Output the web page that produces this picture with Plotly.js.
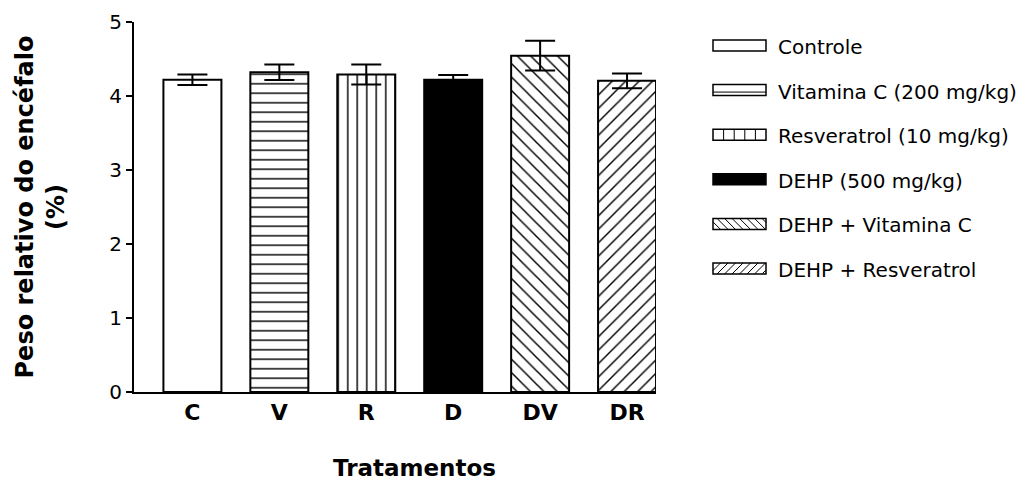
<!DOCTYPE html>
<html>
<head>
<meta charset="utf-8">
<script src="https://cdn.plot.ly/plotly-3.0.1.min.js"></script>
<style>html,body{margin:0;padding:0;background:#fff;}#chart{width:1026px;height:481px;}</style>
</head>
<body>
<div id="chart"></div>
<script>
// ---- data ----
const categories = ['C', 'V', 'R', 'D', 'DV', 'DR'];
const means = [4.22, 4.32, 4.29, 4.22, 4.545, 4.205];
const sems = [0.07, 0.105, 0.135, 0.065, 0.2, 0.1];
const legendLabels = ['Controle', 'Vitamina C (200 mg/kg)', 'Resveratrol (10 mg/kg)', 'DEHP (500 mg/kg)', 'DEHP + Vitamina C', 'DEHP + Resveratrol'];
const yTickVals = [0, 1, 2, 3, 4, 5];
const yTitle = 'Peso relativo do encéfalo<br>(%)';
const xTitle = 'Tratamentos';

// ---- styles ----
const FONT = 'DejaVu Sans, Verdana, Arial, sans-serif';
const fills = ['white', 'white', 'white', 'black', 'white', 'white'];
const patterns = ['', '-', '|', '', '\\', '/'];

// plot area in pixels
const L = 134, R = 656, T = 22, B = 392;
const W = R - L, H = B - T;
const px = x => (x - L) / W;
const py = y => (B - y) / H;

const traces = categories.map((c, i) => {
  const marker = {color: fills[i], line: {color: 'black', width: 2}};
  if (patterns[i]) {
    marker.color = 'black';
    marker.pattern = {shape: patterns[i], fgcolor: 'black', bgcolor: 'white', size: 9.5, solidity: 0.15};
  }
  return {
    type: 'bar',
    name: legendLabels[i],
    x: [c],
    y: [means[i]],
    width: 0.667,
    marker: marker,
    error_y: {type: 'data', array: [sems[i]], visible: true, color: 'black', thickness: 2, width: 15},
    showlegend: false
  };
});

// ---- custom legend (wide keys like the original) ----
const shapes = [];
const annotations = [];
const kx0 = 713, kx1 = 766, kh = 11;
function hatchPath(x0, x1, y0, y1, step, dir) {
  const h = y1 - y0;
  let p = '';
  for (let t = -h; t < (x1 - x0); t += step) {
    const u0 = Math.max(0, -t), u1 = Math.min(h, (x1 - x0) - t);
    if (u1 <= u0) continue;
    const xa = x0 + t + u0, xb = x0 + t + u1;
    let ya, yb;
    if (dir === 'back') { ya = y0 + u0; yb = y0 + u1; } else { ya = y1 - u0; yb = y1 - u1; }
    p += 'M' + px(xa) + ',' + py(ya) + 'L' + px(xb) + ',' + py(yb);
  }
  return p;
}
legendLabels.forEach((lab, i) => {
  const cy = 46 + i * 44.6;
  const y0 = cy - 6, y1 = y0 + kh;
  shapes.push({type: 'rect', xref: 'paper', yref: 'paper', x0: px(kx0), x1: px(kx1), y0: py(y1), y1: py(y0),
    fillcolor: fills[i], line: {width: 0}});
  let path = '';
  if (patterns[i] === '-') {
    const yy = y0 + 0.68 * kh;
    path = 'M' + px(kx0) + ',' + py(yy) + 'L' + px(kx1) + ',' + py(yy);
  } else if (patterns[i] === '|') {
    for (let k = 1; k < 5; k++) {
      const xx = kx0 + k * (kx1 - kx0) / 5;
      path += 'M' + px(xx) + ',' + py(y0) + 'L' + px(xx) + ',' + py(y1);
    }
  } else if (patterns[i] === '\\') {
    path = hatchPath(kx0, kx1, y0, y1, 7.5, 'back');
  } else if (patterns[i] === '/') {
    path = hatchPath(kx0, kx1, y0, y1, 7.5, 'fwd');
  }
  if (path) shapes.push({type: 'path', xref: 'paper', yref: 'paper', path: path, line: {color: 'black', width: 1}});
  shapes.push({type: 'rect', xref: 'paper', yref: 'paper', x0: px(kx0), x1: px(kx1), y0: py(y1), y1: py(y0),
    fillcolor: 'rgba(0,0,0,0)', line: {color: 'black', width: 1.5}});
  annotations.push({xref: 'paper', yref: 'paper', x: px(776), y: py(cy + 1), xanchor: 'left', yanchor: 'middle',
    text: lab, showarrow: false, font: {family: FONT, size: 20, color: 'black'}});
});

annotations.push({xref: 'paper', yref: 'paper', x: px(414), y: py(468), xanchor: 'center', yanchor: 'middle',
  text: '<b>' + xTitle + '</b>', showarrow: false, font: {family: FONT, size: 23, color: 'black'}});

const layout = {
  width: 1026, height: 481,
  margin: {l: L, r: 1026 - R, t: T, b: 481 - B, pad: 0},
  paper_bgcolor: 'white', plot_bgcolor: 'white',
  font: {family: FONT, color: 'black'},
  showlegend: false,
  barmode: 'overlay',
  xaxis: {
    type: 'category', range: [-0.672, 5.333], categoryorder: 'array', categoryarray: categories,
    showline: true, linecolor: 'black', linewidth: 2, ticks: '', showgrid: false, zeroline: false,
    tickfont: {family: FONT, size: 22, weight: 'bold', color: 'black'},
    fixedrange: true
  },
  yaxis: {
    range: [0, 5], tickvals: yTickVals, ticktext: yTickVals.map(String),
    showline: true, linecolor: 'black', linewidth: 2, ticks: 'outside', ticklen: 6, tickwidth: 2, tickcolor: 'black',
    showgrid: false, zeroline: false,
    tickfont: {family: FONT, size: 20, color: 'black'},
    title: {text: '<b>' + yTitle + '</b>', font: {family: FONT, size: 24, color: 'black'}, standoff: 38},
    fixedrange: true
  },
  shapes: shapes,
  annotations: annotations
};

Plotly.newPlot('chart', traces, layout, {displayModeBar: false});
</script>
</body>
</html>
